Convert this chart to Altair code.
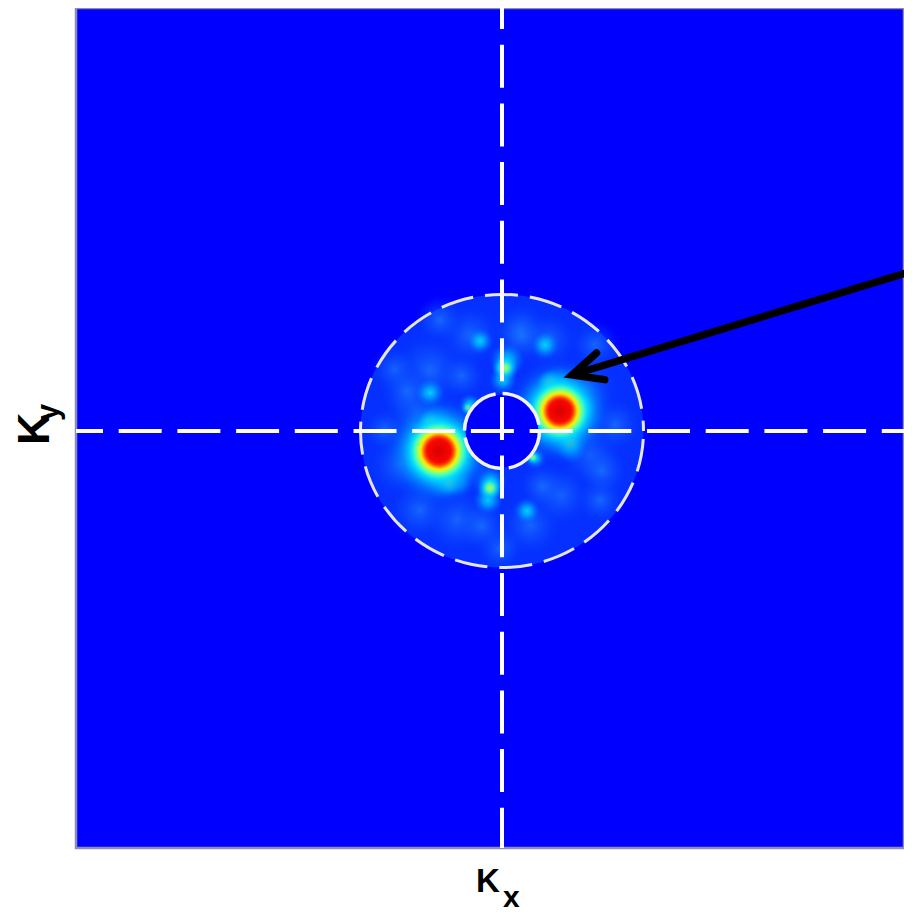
import math
import altair as alt
import pandas as pd

# ---------------- data (k-space units, centre of spectrum = 0,0) ----------------
kx_domain = [-426, 402]
ky_domain = [-417, 423]

# spectral patches: position, patch diameter, intensity class
low_kx = [-72, -87, -102, -82, -44, -32, 18, 46, 28, 83, 88, 58, 113, 98, -2, -62, -117, 93, -107,
          -20, 20, -95, 100, -40, 40]
low_ky = [61, 21, -34, -79, -89, 96, 101, 91, -94, 41, -24, -64, 6, -69, -117, 111, 1, 86, 61,
          -95, 95, 40, -40, 55, -55]
low_d = [80, 65, 65, 65, 70, 65, 60, 60, 65, 70, 65, 65, 55, 50, 50, 50, 45, 50, 50,
         55, 55, 55, 55, 50, 50]

mid_kx = [5, 1, -12, -14, 43, -72, -32, 33, -45, 70, 56, 66, -66, -58, -22, 25, 80, -85]
mid_ky = [71, 51, -51, -69, 86, 38, 26, -27, -51, -16, 46, -10, 8, -50, 90, -80, 25, -30]
mid_d = [38, 30, 36, 32, 30, 32, 24, 24, 32, 34, 40, 40, 40, 40, 28, 28, 30, 30]

high_kx = [3, -12, -34, 31, 48, 68, -72, -53]
high_ky = [63, -57, 23, -26, 48, -11, 9, -51]
high_d = [26, 26, 14, 14, 26, 24, 24, 26]

peak_kx = [58, -63]
peak_ky = [20, -20]
peak_d = [110, 116]

# annulus (band-pass) limits
ring_kind = ["outer", "inner"]
ring_d = [283, 75]
mask_d = [73]

# arrow annotation (k-space units)
arrow_kx = [430, 70]
arrow_ky = [166, 56]

# ---------------- styles ----------------
BG = "#0000ff"


def radial(stops):
    return alt.RadialGradient(
        gradient="radial",
        stops=[alt.GradientStop(offset=o, color=c) for o, c in stops])


grad = {
    "low": radial([(0, "rgba(30,125,255,0.7)"), (0.5, "rgba(15,90,255,0.4)"),
                   (1, "rgba(0,50,255,0)")]),
    "mid": radial([(0, "rgba(0,225,255,0.9)"), (0.35, "rgba(0,190,255,0.7)"),
                   (0.7, "rgba(0,130,255,0.35)"), (1, "rgba(0,70,255,0)")]),
    "high": radial([(0, "rgba(170,255,90,1)"), (0.3, "rgba(90,255,160,0.9)"),
                    (0.6, "rgba(0,220,255,0.6)"), (1, "rgba(0,150,255,0)")]),
    "peak": radial([(0, "#d80000"), (0.2, "#f80800"), (0.245, "#ff4000"),
                    (0.28, "#ff9a00"), (0.315, "#ffe800"), (0.36, "#b0ff50"),
                    (0.42, "#40ffc0"), (0.5, "rgba(0,215,255,0.95)"),
                    (0.64, "rgba(0,155,255,0.7)"), (0.82, "rgba(0,100,255,0.3)"),
                    (1, "rgba(0,60,255,0)")]),
}

ELLIPSE = "M 1 0 A 1 0.965 0 0 1 -1 0 A 1 0.965 0 0 1 1 0 Z"
CHEVRON = "M -0.906 -0.423 L 0 0 L -0.906 0.423"

xs = alt.Scale(domain=kx_domain, nice=False, zero=False)
ys = alt.Scale(domain=ky_domain, nice=False, zero=False)
X = alt.X("kx:Q", scale=xs, axis=None)
Y = alt.Y("ky:Q", scale=ys, axis=None)
S = alt.Size("d:Q", scale=alt.Scale(type="pow", exponent=2, domain=[0, 1000],
                                    range=[0, 1000000]), legend=None)

blob_sets = {
    "low": (low_kx, low_ky, low_d),
    "mid": (mid_kx, mid_ky, mid_d),
    "high": (high_kx, high_ky, high_d),
    "peak": (peak_kx, peak_ky, peak_d),
}
rings = pd.DataFrame({"kx": [0, 0], "ky": [0, 0], "d": ring_d, "kind": ring_kind})
mask = pd.DataFrame({"kx": [0], "ky": [0], "d": mask_d})
arrow = pd.DataFrame({"kx": arrow_kx, "ky": arrow_ky})
head = pd.DataFrame({"kx": [arrow_kx[1]], "ky": [arrow_ky[1]]})
hline = pd.DataFrame({"kx": [kx_domain[0]], "kx2": [kx_domain[1]], "ky": [0]})
vline = pd.DataFrame({"kx": [0], "ky": [ky_domain[1]], "ky2": [ky_domain[0]]})
one = pd.DataFrame({"n": [0]})

layers = []
# faint haze filling the band-pass disc
layers.append(alt.Chart(rings).transform_filter(alt.datum.kind == "outer")
              .mark_point(shape=ELLIPSE, filled=True, fill="#0530ff", opacity=1)
              .encode(x=X, y=Y, size=S))
for k, (bx, by, bd) in blob_sets.items():
    df = pd.DataFrame({"kx": bx, "ky": by, "d": bd})
    layers.append(alt.Chart(df).mark_circle(fill=grad[k], opacity=1)
                  .encode(x=X, y=Y, size=S))
# central stop
layers.append(alt.Chart(mask).mark_circle(fill=BG, opacity=1).encode(x=X, y=Y, size=S))
# dashed annulus limits
layers.append(alt.Chart(rings).transform_filter(alt.datum.kind == "outer")
              .mark_point(shape=ELLIPSE, filled=False, stroke="#e6e6f2", strokeWidth=3,
                          strokeDash=[33, 12], strokeDashOffset=37, opacity=1)
              .encode(x=X, y=Y, size=S))
layers.append(alt.Chart(rings).transform_filter(alt.datum.kind == "inner")
              .mark_point(shape="circle", filled=False, stroke="#f2f2fa", strokeWidth=3.5,
                          strokeDash=[52, 7], opacity=1)
              .encode(x=X, y=Y, size=S))
# dashed axes through the origin
layers.append(alt.Chart(hline).mark_rule(color="white", strokeWidth=4, strokeDash=[43, 15.7],
                                         strokeDashOffset=16)
              .encode(x=X, x2="kx2:Q", y=Y))
layers.append(alt.Chart(vline).mark_rule(color="white", strokeWidth=4, strokeDash=[43, 15.7],
                                         strokeDashOffset=22)
              .encode(x=X, y=Y, y2="ky2:Q"))
# arrow
layers.append(alt.Chart(arrow).mark_line(color="black", strokeWidth=7.5, strokeCap="butt")
              .encode(x=X, y=Y))
ang = math.degrees(math.atan2(-(arrow_ky[1] - arrow_ky[0]), arrow_kx[1] - arrow_kx[0])) % 360
layers.append(alt.Chart(head).mark_point(shape=CHEVRON, filled=False, stroke="black",
                                         strokeWidth=7.5, strokeJoin="miter", strokeCap="round",
                                         angle=ang, size=4356, opacity=1)
              .encode(x=X, y=Y))
# axis labels
F = "Liberation Sans"
layers.append(alt.Chart(one).mark_text(text="K", font=F, fontWeight="bold", fontSize=33,
                                       align="center", baseline="alphabetic", color="black")
              .encode(x=alt.value(412), y=alt.value(884)))
layers.append(alt.Chart(one).mark_text(text="x", font=F, fontWeight="bold", fontSize=30,
                                       align="left", baseline="alphabetic", color="black")
              .encode(x=alt.value(427), y=alt.value(899)))
layers.append(alt.Chart(one).mark_text(text="K", font=F, fontWeight="bold", fontSize=45,
                                       align="left", baseline="alphabetic", angle=270,
                                       color="black")
              .encode(x=alt.value(-27.5), y=alt.value(437)))
layers.append(alt.Chart(one).mark_text(text="y", font=F, fontWeight="bold", fontSize=31,
                                       align="left", baseline="alphabetic", angle=270,
                                       color="black")
              .encode(x=alt.value(-18), y=alt.value(413)))

chart = (alt.layer(*layers)
         .properties(width=828, height=840,
                     autosize=alt.AutoSizeParams(type="none"),
                     padding={"left": 68, "top": 0, "right": 0, "bottom": 67},
                     background="white")
         .configure_view(fill=BG, stroke="#8c8cb4", strokeWidth=2.5))

chart.save("out.html", embed_options={"renderer": "svg", "actions": False})
